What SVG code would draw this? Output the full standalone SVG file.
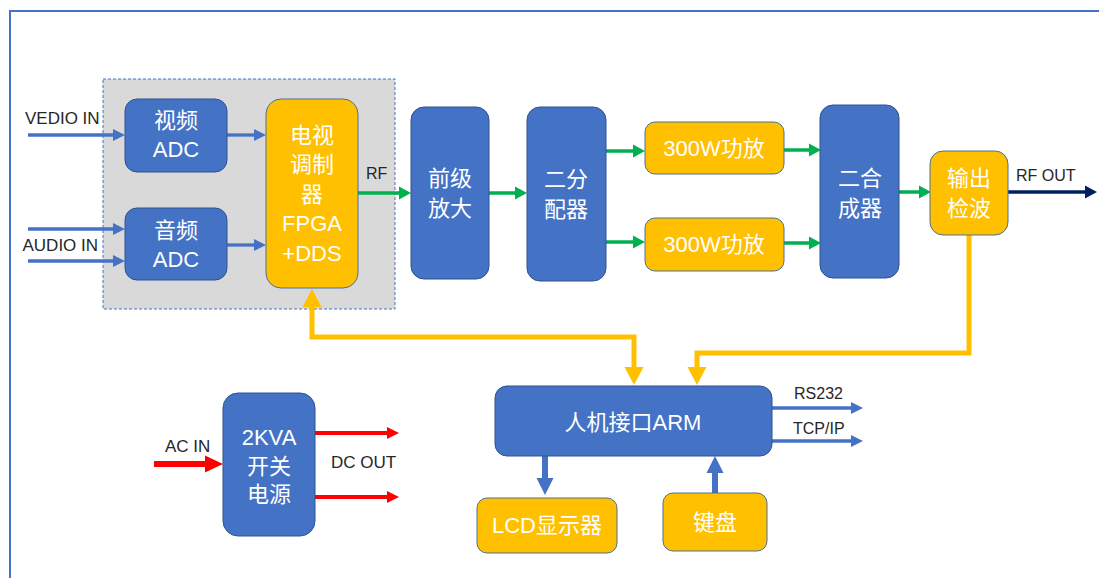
<svg xmlns="http://www.w3.org/2000/svg" width="1099" height="578" viewBox="0 0 1099 578">
<style>
.blue{fill:#4472C4;stroke:#2F528F;stroke-width:1}
.yel{fill:#FFC000;stroke:#4F6E99;stroke-width:1}
.bt{fill:#FFFFFF;font-family:"Liberation Sans","Noto Sans CJK SC",sans-serif;font-size:22px;text-anchor:middle;dominant-baseline:central}
.lbl{fill:#262626;font-family:"Liberation Sans","Noto Sans CJK SC",sans-serif;font-size:17px}
.sm{font-size:16px}
.lb{fill:none;stroke:#4472C4;stroke-width:3.3}
.lbt{fill:none;stroke:#4472C4;stroke-width:6}
.lg{fill:none;stroke:#00B050;stroke-width:3.5}
.ln{fill:none;stroke:#002060;stroke-width:3.5}
.lr{fill:none;stroke:#FF0000;stroke-width:4}
.lrt{fill:none;stroke:#FF0000;stroke-width:6}
.ly{fill:none;stroke:#FFC000;stroke-width:5}
</style>
<defs>
<marker id="mb" markerUnits="userSpaceOnUse" orient="auto" refX="0" refY="0" overflow="visible"><path d="M0,-6 L12,0 L0,6 z" fill="#4472C4"/></marker>
<marker id="mbt" markerUnits="userSpaceOnUse" orient="auto" refX="0" refY="0" overflow="visible"><path d="M0,-8.5 L17,0 L0,8.5 z" fill="#4472C4"/></marker>
<marker id="mg" markerUnits="userSpaceOnUse" orient="auto" refX="0" refY="0" overflow="visible"><path d="M0,-6.5 L12,0 L0,6.5 z" fill="#00B050"/></marker>
<marker id="mn" markerUnits="userSpaceOnUse" orient="auto" refX="0" refY="0" overflow="visible"><path d="M0,-6.5 L12,0 L0,6.5 z" fill="#002060"/></marker>
<marker id="mr" markerUnits="userSpaceOnUse" orient="auto" refX="0" refY="0" overflow="visible"><path d="M0,-6 L12,0 L0,6 z" fill="#FF0000"/></marker>
<marker id="mrt" markerUnits="userSpaceOnUse" orient="auto" refX="0" refY="0" overflow="visible"><path d="M0,-8.5 L18,0 L0,8.5 z" fill="#FF0000"/></marker>
<marker id="my" markerUnits="userSpaceOnUse" orient="auto-start-reverse" refX="0" refY="0" overflow="visible"><path d="M0,-9.5 L18,0 L0,9.5 z" fill="#FFC000"/></marker>
</defs>
<rect x="0" y="0" width="1099" height="578" fill="#FFFFFF"/>
<rect id="frame" x="10" y="11" width="1100" height="600" fill="none" stroke="#4472C4" stroke-width="2"/>
<rect id="group-bg" x="103" y="79" width="292" height="230" fill="#D9D9D9" stroke="#4472C4" stroke-width="1" stroke-dasharray="3,2"/>

<g id="connectors">
<path class="lb" d="M28,135 H113" marker-end="url(#mb)"/>
<path class="lb" d="M28,229 H113" marker-end="url(#mb)"/>
<path class="lb" d="M28,261 H113" marker-end="url(#mb)"/>
<path class="lb" d="M227,135 H254" marker-end="url(#mb)"/>
<path class="lb" d="M227,245 H254" marker-end="url(#mb)"/>
<path class="lg" d="M358,193 H399" marker-end="url(#mg)"/>
<path class="lg" d="M489,193 H515" marker-end="url(#mg)"/>
<path class="lg" d="M606,151 H633" marker-end="url(#mg)"/>
<path class="lg" d="M606,242 H633" marker-end="url(#mg)"/>
<path class="lg" d="M784,150 H809" marker-end="url(#mg)"/>
<path class="lg" d="M784,243 H809" marker-end="url(#mg)"/>
<path class="lg" d="M899,192 H919" marker-end="url(#mg)"/>
<path class="ln" d="M1008,192 H1085" marker-end="url(#mn)"/>
<path class="ly" d="M312,307 V337 H634 V367" marker-start="url(#my)" marker-end="url(#my)"/>
<path class="ly" d="M969,235 V353 H697 V367" marker-end="url(#my)"/>
<path class="lb" d="M772,408 H851" marker-end="url(#mb)"/>
<path class="lb" d="M772,441 H851" marker-end="url(#mb)"/>
<path class="lbt" d="M545,456 V478" marker-end="url(#mbt)"/>
<path class="lbt" d="M715,493 V473" marker-end="url(#mbt)"/>
<path class="lrt" d="M154,464 H205" marker-end="url(#mrt)"/>
<path class="lr" d="M315,433 H387" marker-end="url(#mr)"/>
<path class="lr" d="M315,497 H387" marker-end="url(#mr)"/>
</g>

<g id="labels">
<text class="lbl" x="25" y="124">VEDIO IN</text>
<text class="lbl" x="22.5" y="251">AUDIO IN</text>
<text class="lbl sm" x="366" y="179">RF</text>
<text class="lbl sm" x="1016" y="181">RF OUT</text>
<text class="lbl" x="165" y="452">AC IN</text>
<text class="lbl" x="331" y="468">DC OUT</text>
<text class="lbl sm" x="794" y="399">RS232</text>
<text class="lbl sm" x="793" y="434">TCP/IP</text>
</g>

<g id="video-adc">
<rect class="blue" x="125" y="99" width="102" height="73" rx="12"/>
<text class="bt" x="176" y="120">视频</text>
<text class="bt" x="176" y="149">ADC</text>
</g>
<g id="audio-adc">
<rect class="blue" x="125" y="208" width="102" height="72" rx="12"/>
<text class="bt" x="176" y="230">音频</text>
<text class="bt" x="176" y="259">ADC</text>
</g>
<g id="modulator">
<rect class="yel" x="266" y="99" width="92" height="189" rx="15"/>
<text class="bt" x="312" y="135">电视</text>
<text class="bt" x="312" y="164.5">调制</text>
<text class="bt" x="312" y="194">器</text>
<text class="bt" x="312" y="223.5">FPGA</text>
<text class="bt" x="312" y="253">+DDS</text>
</g>
<g id="preamp">
<rect class="blue" x="411" y="107" width="78" height="172" rx="13"/>
<text class="bt" x="450" y="178">前级</text>
<text class="bt" x="450" y="208">放大</text>
</g>
<g id="splitter">
<rect class="blue" x="527" y="107" width="79" height="174" rx="13"/>
<text class="bt" x="566" y="179">二分</text>
<text class="bt" x="566" y="209">配器</text>
</g>
<g id="pa1">
<rect class="yel" x="645" y="122" width="139" height="52" rx="10"/>
<text class="bt" x="714" y="148">300W功放</text>
</g>
<g id="pa2">
<rect class="yel" x="645" y="218" width="139" height="53" rx="10"/>
<text class="bt" x="714" y="244">300W功放</text>
</g>
<g id="combiner">
<rect class="blue" x="820" y="105" width="79" height="173" rx="13"/>
<text class="bt" x="860" y="178">二合</text>
<text class="bt" x="860" y="208">成器</text>
</g>
<g id="detector">
<rect class="yel" x="930" y="151" width="78" height="84" rx="13"/>
<text class="bt" x="969" y="178">输出</text>
<text class="bt" x="969" y="208">检波</text>
</g>
<g id="arm">
<rect class="blue" x="495" y="386" width="277" height="70" rx="12"/>
<text class="bt" x="633" y="422">人机接口ARM</text>
</g>
<g id="lcd">
<rect class="yel" x="477" y="498" width="140" height="55" rx="10"/>
<text class="bt" x="547" y="525">LCD显示器</text>
</g>
<g id="keyboard">
<rect class="yel" x="663" y="493" width="104" height="58" rx="10"/>
<text class="bt" x="715" y="522">键盘</text>
</g>
<g id="power">
<rect class="blue" x="223" y="393" width="92" height="143" rx="15"/>
<text class="bt" x="269" y="437">2KVA</text>
<text class="bt" x="269" y="466">开关</text>
<text class="bt" x="269" y="494">电源</text>
</g>
</svg>
